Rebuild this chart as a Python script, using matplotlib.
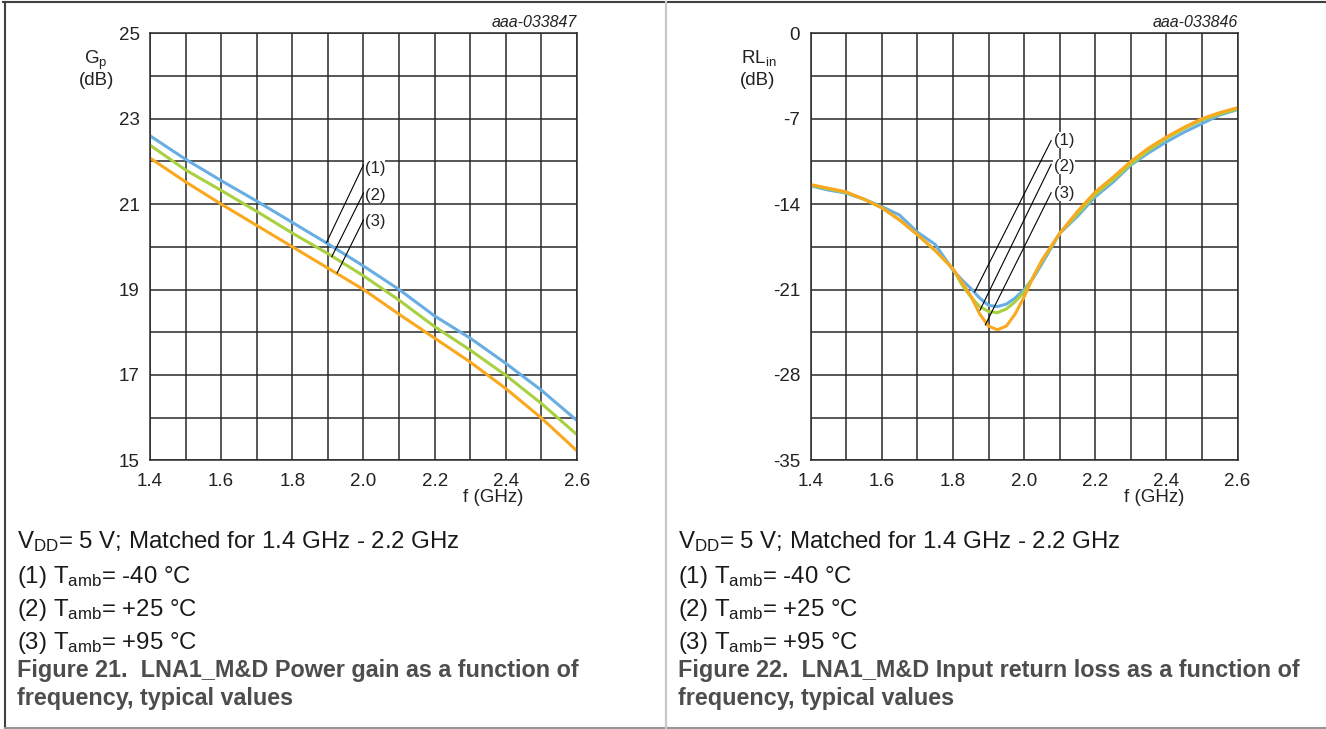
import numpy as np
import matplotlib
matplotlib.use('Agg')
import matplotlib.pyplot as plt
from matplotlib.lines import Line2D

plt.rcParams['font.family'] = ['Liberation Sans', 'DejaVu Sans']
plt.rcParams['mathtext.default'] = 'regular'

# ---------------- data ----------------
# Figure 21: power gain Gp (dB) vs f (GHz)
freq_gp = [1.4, 1.5, 1.6, 1.7, 1.8, 1.9, 2.0, 2.1, 2.2, 2.3, 2.4, 2.5, 2.6]
gp_m40 = [22.60, 22.05, 21.55, 21.07, 20.57, 20.07, 19.55, 19.00, 18.38, 17.86, 17.27, 16.64, 15.93]
gp_p25 = [22.38, 21.80, 21.32, 20.83, 20.32, 19.84, 19.32, 18.75, 18.13, 17.58, 16.99, 16.33, 15.60]
gp_p95 = [22.08, 21.52, 21.00, 20.50, 20.00, 19.50, 19.00, 18.42, 17.86, 17.30, 16.68, 15.99, 15.22]

# Figure 22: input return loss RLin (dB) vs f (GHz)
freq_rl = [1.40, 1.45, 1.50, 1.55, 1.60, 1.65, 1.70, 1.75, 1.80, 1.825, 1.85, 1.875,
           1.90, 1.925, 1.95, 1.975, 2.00, 2.025, 2.05, 2.10, 2.15, 2.20, 2.25, 2.30,
           2.35, 2.40, 2.45, 2.50, 2.55, 2.60]
rl_m40 = [-12.5, -12.85, -13.1, -13.6, -14.2, -14.9, -16.3, -17.3, -19.4, -20.2, -20.9, -21.7,
          -22.3, -22.4, -22.2, -21.7, -21.0, -20.1, -18.9, -16.4, -15.0, -13.4, -12.2, -10.8,
          -9.8, -8.9, -8.1, -7.4, -6.7, -6.25]
rl_p25 = [-12.45, -12.75, -13.05, -13.6, -14.3, -15.3, -16.5, -17.8, -19.3, -20.6, -21.6, -22.4,
          -22.8, -22.9, -22.6, -22.0, -21.2, -20.0, -18.7, -16.4, -14.8, -13.2, -12.0, -10.7,
          -9.6, -8.6, -7.8, -7.1, -6.6, -6.2]
rl_p95 = [-12.4, -12.7, -13.0, -13.6, -14.3, -15.3, -16.5, -17.8, -19.3, -20.4, -21.5, -23.0,
          -24.0, -24.3, -24.0, -23.0, -21.6, -20.0, -18.6, -16.4, -14.6, -13.0, -11.8, -10.5,
          -9.4, -8.5, -7.7, -7.0, -6.5, -6.1]

x_ticks = [1.4, 1.6, 1.8, 2.0, 2.2, 2.4, 2.6]
gp_ticks = [15, 17, 19, 21, 23, 25]
rl_ticks = [-35, -28, -21, -14, -7, 0]

colors = ['#68aee2', '#a8d040', '#f9a81f']

W, H = 1326, 729
fig = plt.figure(figsize=(W / 100, H / 100), dpi=100)


def fx(x):
    return x / W


def fy(y):
    return 1 - y / H


def setup_axes(x0, ymin, ymax, major, minor):
    ax = fig.add_axes([fx(x0), fy(460.3), 427 / W, 427 / H])
    ax.set_xlim(1.4, 2.6)
    ax.set_ylim(ymin, ymax)
    ax.set_xticks(x_ticks)
    ax.set_xticks(np.arange(1.4, 2.61, 0.1), minor=True)
    ax.set_yticks(major)
    ax.set_yticks(np.arange(ymin, ymax + 0.01, minor), minor=True)
    ax.set_xticklabels([f'{v:.1f}' for v in x_ticks])
    ax.set_yticklabels([str(v) for v in major])
    ax.grid(True, which='both', color='#2a2a2a', lw=1.1)
    ax.tick_params(which='both', length=0, labelsize=13.5, colors='#222222')
    ax.tick_params(axis='x', pad=9.5)
    ax.tick_params(axis='y', pad=7.5)
    for s in ax.spines.values():
        s.set_color('#2a2a2a')
        s.set_linewidth(1.1)
    ax.set_axisbelow(True)
    return ax


# ---------------- left: power gain ----------------
ax1 = setup_axes(150, 15, 25, gp_ticks, 1)
for ys, c in zip([gp_m40, gp_p25, gp_p95], colors):
    ax1.plot(freq_gp, ys, color=c, lw=2.2, solid_capstyle='butt')

for (x0, y0, x1, y1) in [(2.0, 21.92, 1.896, 20.10), (2.0, 21.26, 1.911, 19.77), (2.0, 20.63, 1.926, 19.39)]:
    ax1.plot([x0, x1], [y0, y1], color='black', lw=0.8)
for lab, yy in zip(['(1)', '(2)', '(3)'], [21.84, 21.2, 20.59]):
    ax1.text(2.003, yy, lab, fontsize=12, va='center', ha='left', color='#222222',
             bbox=dict(facecolor='white', edgecolor='none', pad=0.2))

# ---------------- right: input return loss ----------------
ax2 = setup_axes(810.6, -35, 0, rl_ticks, 3.5)
for ys, c in zip([rl_m40, rl_p25, rl_p95], colors):
    ax2.plot(freq_rl, ys, color=c, lw=2.2, solid_capstyle='butt')

for (x0, y0, x1, y1) in [(2.076, -8.8, 1.861, -21.2), (2.076, -10.74, 1.876, -22.7), (2.076, -13.07, 1.891, -23.9)]:
    ax2.plot([x0, x1], [y0, y1], color='black', lw=0.8)
for lab, yy in zip(['(1)', '(2)', '(3)'], [-8.75, -10.93, -13.1]):
    ax2.text(2.083, yy, lab, fontsize=12, va='center', ha='left', color='#222222',
             bbox=dict(facecolor='white', edgecolor='none', pad=0.2))

# ---------------- labels around the axes ----------------
for xoff, code, ylab in [(0, 'aaa-033847', 'G$_{p}$'), (660.6, 'aaa-033846', 'RL$_{in}$')]:
    fig.text(fx(577 + xoff), fy(22.7), code, fontsize=11.5, style='italic', ha='right', va='center',
             color='#222222')
    fig.text(fx(96 + xoff + (2 if xoff else 0)), fy(63.5), ylab, fontsize=13.5, ha='center',
             va='baseline', color='#222222')
    fig.text(fx(96.5 + xoff), fy(85), '(dB)', fontsize=13.5, ha='center', va='baseline',
             color='#222222')
    fig.text(fx(493.6 + xoff), fy(498), 'f (GHz)', fontsize=13.5, ha='center', va='center',
             color='#222222')

# ---------------- captions ----------------
captions = [
    ('Figure 21.  LNA1_M&D Power gain as a function of', 17),
    ('Figure 22.  LNA1_M&D Input return loss as a function of', 677.8),
]
body = dict(fontsize=17.3, va='baseline', color='#1a1a1a')
bold = dict(fontsize=16.8, weight='bold', va='baseline', color='#4d4d4d')
for title, x in captions:
    fig.text(fx(x), fy(548), 'V$_{DD}$= 5 V; Matched for 1.4 GHz - 2.2 GHz', **body)
    fig.text(fx(x), fy(583), '(1) T$_{amb}$= -40 °C', **body)
    fig.text(fx(x), fy(616), '(2) T$_{amb}$= +25 °C', **body)
    fig.text(fx(x), fy(649), '(3) T$_{amb}$= +95 °C', **body)
    fig.text(fx(x), fy(677.5), title, **bold)
    fig.text(fx(x), fy(705), 'frequency, typical values', **bold)

# ---------------- frame lines ----------------
fig.add_artist(Line2D([fx(3), fx(W)], [fy(1.7), fy(1.7)], color='#404040', lw=1.5))
fig.add_artist(Line2D([fx(5), fx(5)], [fy(1.7), fy(727.7)], color='#404040', lw=1.5))
fig.add_artist(Line2D([fx(5), fx(W)], [fy(727.7), fy(727.7)], color='#959595', lw=1.5))
fig.add_artist(Line2D([fx(665.7), fx(665.7)], [fy(1.7), fy(727.7)], color='#c8c8c8', lw=1.6))

fig.savefig('out.png', dpi=100)
